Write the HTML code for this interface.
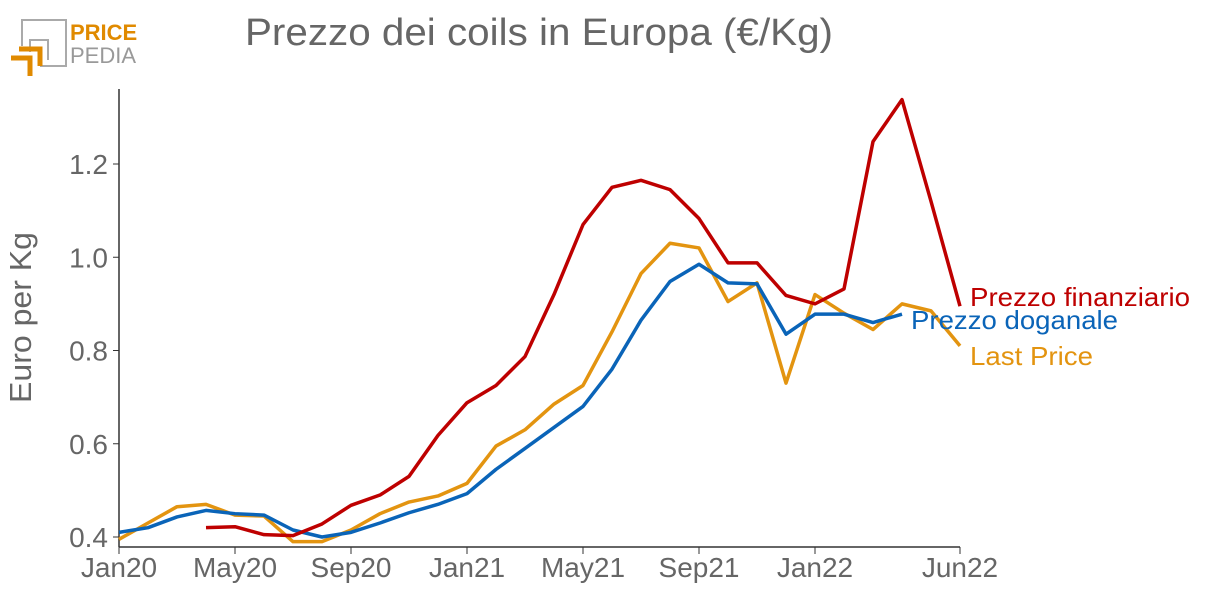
<!DOCTYPE html>
<html><head><meta charset="utf-8"><style>
body{margin:0;background:#fff;width:1206px;height:606px;overflow:hidden;font-family:"Liberation Sans",sans-serif}
</style></head><body>
<svg width="1206" height="606">
<g>
<polyline points="22,46 22,20 66,20 66,66 40,66" fill="none" stroke="#aaa" stroke-width="2"/>
<polyline points="30,52 30,40 48,40 48,60" fill="none" stroke="#aaa" stroke-width="2"/>
<polyline points="11,58 30,58 30,76" fill="none" stroke="#e08a00" stroke-width="5"/>
<polyline points="19,49 40,49 40,66" fill="none" stroke="#e08a00" stroke-width="5"/>
<text x="70" y="40" font-size="22" font-weight="bold" fill="#e08a00">PRICE</text>
<text x="70" y="63" font-size="22" fill="#999">PEDIA</text>
</g>
<text x="245" y="45" font-size="38" fill="#666" textLength="588" lengthAdjust="spacingAndGlyphs">Prezzo dei coils in Europa (€/Kg)</text>
<text transform="translate(31,403) rotate(-90)" font-size="31" fill="#666" textLength="171" lengthAdjust="spacingAndGlyphs">Euro per Kg</text>
<g id="axes"></g>
<g id="series"></g>
</svg>
<script>
const xLabels=["Jan20","May20","Sep20","Jan21","May21","Sep21","Jan22","Jun22"];
const xLabelMonths=[0,4,8,12,16,20,24,29];
const yTicks=[0.4,0.6,0.8,1.0,1.2];
const lastPrice=[0.395,0.43,0.465,0.47,0.447,0.445,0.39,0.39,0.415,0.45,0.475,0.488,0.515,0.595,0.63,0.685,0.725,0.84,0.965,1.03,1.02,0.905,0.945,0.73,0.92,0.88,0.845,0.9,0.885,0.81];
const doganale=[0.41,0.42,0.443,0.457,0.45,0.447,0.415,0.4,0.41,0.43,0.452,0.47,0.493,0.545,0.59,0.635,0.68,0.76,0.865,0.948,0.985,0.945,0.943,0.835,0.878,0.878,0.86,0.878];
const finanziario=[null,null,null,0.42,0.422,0.405,0.403,0.428,0.468,0.49,0.53,0.618,0.688,0.725,0.787,0.92,1.07,1.15,1.165,1.145,1.083,0.988,0.988,0.918,0.9,0.932,1.248,1.338,1.12,0.895];
const NS="http://www.w3.org/2000/svg";
const X=m=>119+m*29;
const Y=v=>537-(v-0.4)*466.25;
function mk(t,a,p){const e=document.createElementNS(NS,t);for(const k in a)e.setAttribute(k,a[k]);p.appendChild(e);return e;}
const ax=document.getElementById('axes');
let l=mk('line',{x1:119,y1:89,x2:119,y2:547,stroke:'#333','stroke-width':1.5},ax);


l=mk('line',{x1:119,y1:547,x2:960,y2:547,stroke:'#333','stroke-width':1.5},ax);


yTicks.forEach(v=>{
 mk('line',{x1:113,y1:Y(v),x2:119,y2:Y(v),stroke:'#333'},ax);
 const t=mk('text',{x:108,y:Y(v)+10,'text-anchor':'end','font-size':28,fill:'#666'},ax);
 t.textContent=v.toFixed(1);
 
 
});
xLabels.forEach((s,i)=>{
 const x=X(xLabelMonths[i]);
 mk('line',{x1:x,y1:547,x2:x,y2:554,stroke:'#333'},ax);
 const t=mk('text',{x:x,y:577,'text-anchor':'middle','font-size':28,fill:'#666'},ax);
 t.textContent=s;
 
 
});
const sg=document.getElementById('series');
function line(data,color,name){
 const pts=[];data.forEach((v,i)=>{if(v!=null)pts.push(X(i)+','+Y(v));});
 const p=mk('polyline',{points:pts.join(' '),fill:'none',stroke:color,'stroke-width':3.5,'stroke-linejoin':'round'},sg);
 
 
}
line(lastPrice,'#e39410','line-last-price');
line(doganale,'#0a64b8','line-prezzo-doganale');
line(finanziario,'#be0000','line-prezzo-finanziario');
[["Prezzo finanziario",970,306,'#be0000','label-prezzo-finanziario',220],["Prezzo doganale",911,329,'#0a64b8','label-prezzo-doganale',207],["Last Price",970,365,'#e39410','label-last-price',123]].forEach(a=>{
 const t=mk('text',{x:a[1],y:a[2],'font-size':26,fill:a[3],textLength:a[5],lengthAdjust:'spacingAndGlyphs'},sg);
 t.textContent=a[0];
 
 
});
</script>
</body></html>
